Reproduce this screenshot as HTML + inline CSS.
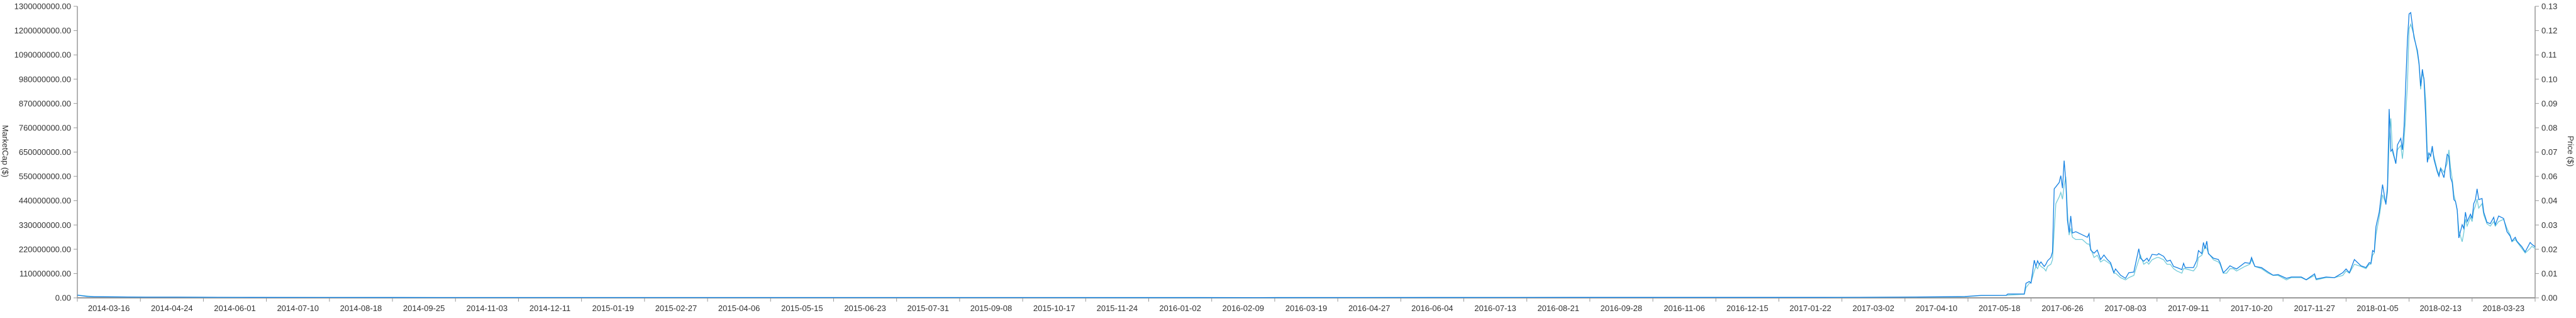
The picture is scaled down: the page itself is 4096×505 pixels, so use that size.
<!DOCTYPE html>
<html><head><meta charset="utf-8"><style>
html,body{margin:0;padding:0;background:#fff;}
svg text{font-family:"Liberation Sans",sans-serif;font-size:13px;fill:#333;}
</style></head><body>
<svg id="chart" width="4096" height="500" xmlns="http://www.w3.org/2000/svg"></svg>
<script>
const dayOffsets=[0,6,10,41,60,105,219,333,522,712,901,1053,1099,1130,1138,1148,1163,1164,1174,1175,1177,1178,1180,1181,1182,1183,1184,1186,1187,1188,1190,1191,1192,1193,1195,1196,1197,1198,1199,1200,1201,1202,1203,1205,1209,1212,1213,1214,1216,1218,1220,1222,1224,1226,1228,1229,1232,1235,1237,1240,1243,1244,1246,1248,1249,1251,1254,1255,1258,1260,1262,1264,1266,1269,1270,1271,1276,1278,1279,1281,1282,1283,1284,1285,1288,1291,1292,1294,1296,1298,1300,1302,1307,1310,1311,1313,1317,1321,1324,1327,1332,1335,1341,1344,1349,1350,1356,1361,1366,1368,1370,1373,1377,1380,1382,1383,1384,1385,1386,1388,1390,1392,1393,1394,1395,1396,1398,1399,1401,1402,1403,1405,1406,1407,1409,1411,1412,1413,1414,1415,1416,1417,1418,1419,1420,1421,1423,1424,1425,1427,1429,1430,1431,1432,1433,1434,1435,1436,1438,1439,1440,1441,1443,1444,1445,1446,1447,1448,1450,1451,1453,1455,1457,1458,1460,1463,1465,1467,1468,1470,1471,1474,1476,1479,1480,1482];
const marketCapMillions=[12,6,5,3,3,2,1.5,1.5,1.5,1,2,2,3,5,6,11,11,17,17,65,73,66,168,140,165,150,160,140,150,165,180,205,486,495,514,545,489,612,522,345,292,365,289,295,281,270,286,213,199,213,171,191,171,157,112,129,101,87,112,115,219,177,163,177,163,194,191,197,185,163,168,140,135,126,154,135,135,168,211,197,247,219,253,197,177,171,157,112,126,143,135,129,157,154,180,140,135,115,101,104,87,93,93,81,107,84,93,90,112,129,112,171,143,135,157,154,211,205,317,382,505,416,500,842,654,663,598,682,711,660,767,1151,1266,1272,1160,1103,1047,944,1019,972,803,604,646,632,677,618,562,542,576,536,640,632,536,514,438,430,393,267,326,309,382,340,373,354,420,438,486,438,443,382,336,331,359,326,365,354,295,275,253,270,253,228,205,247,239,228];
const priceValues=[0.0012,0.0008,0.0005,0.0003,0.0003,0.0002,0.00015,0.00015,0.00015,0.0001,0.0002,0.0002,0.0003,0.0004,0.0005,0.001,0.0011,0.0012,0.0016,0.0045,0.0065,0.0068,0.012,0.014,0.013,0.015,0.014,0.013,0.012,0.014,0.015,0.017,0.03,0.042,0.045,0.047,0.044,0.05,0.054,0.038,0.028,0.031,0.027,0.026,0.026,0.024,0.024,0.022,0.018,0.019,0.016,0.017,0.016,0.015,0.011,0.011,0.009,0.008,0.009,0.01,0.017,0.019,0.015,0.016,0.015,0.017,0.018,0.018,0.017,0.015,0.015,0.013,0.012,0.011,0.013,0.013,0.012,0.014,0.018,0.019,0.021,0.023,0.022,0.02,0.017,0.016,0.015,0.011,0.011,0.013,0.013,0.012,0.014,0.015,0.017,0.014,0.013,0.011,0.01,0.01,0.008,0.009,0.009,0.008,0.01,0.008,0.009,0.009,0.01,0.012,0.011,0.015,0.014,0.013,0.015,0.015,0.019,0.02,0.028,0.036,0.046,0.042,0.047,0.07,0.08,0.065,0.06,0.066,0.068,0.062,0.07,0.095,0.12,0.122,0.117,0.109,0.104,0.093,0.1,0.098,0.088,0.065,0.062,0.064,0.066,0.063,0.057,0.055,0.058,0.056,0.06,0.066,0.058,0.053,0.046,0.043,0.039,0.03,0.025,0.029,0.035,0.032,0.036,0.034,0.039,0.041,0.044,0.04,0.042,0.037,0.033,0.032,0.034,0.032,0.034,0.035,0.031,0.028,0.025,0.026,0.025,0.022,0.02,0.022,0.023,0.022];
const leftTickLabels=["0.00","110000000.00","220000000.00","330000000.00","440000000.00","550000000.00","650000000.00","760000000.00","870000000.00","980000000.00","1090000000.00","1200000000.00","1300000000.00"];
const rightTickLabels=["0.00","0.01","0.02","0.03","0.04","0.05","0.06","0.07","0.08","0.09","0.10","0.11","0.12","0.13"].filter(l=>l!=="0.05");
const xTickLabels=["2014-03-16","2014-04-24","2014-06-01","2014-07-10","2014-08-18","2014-09-25","2014-11-03","2014-12-11","2015-01-19","2015-02-27","2015-04-06","2015-05-15","2015-06-23","2015-07-31","2015-09-08","2015-10-17","2015-11-24","2016-01-02","2016-02-09","2016-03-19","2016-04-27","2016-06-04","2016-07-13","2016-08-21","2016-09-28","2016-11-06","2016-12-15","2017-01-22","2017-03-02","2017-04-10","2017-05-18","2017-06-26","2017-08-03","2017-09-11","2017-10-20","2017-11-27","2018-01-05","2018-02-13","2018-03-23"];
const capMax=1300, priceMax=0.13, dayMax=1482;

const L=123,R=4031,T=10,B=473;
const NS="http://www.w3.org/2000/svg";
const svg=document.getElementById('chart');
function xS(d){return L+(d/dayMax)*(R-L);}
function yCap(v){return B-(v/capMax)*(B-T);}
function yPrice(v){return B-(v/priceMax)*(B-T);}
function mk(tag,attrs,parent){const e=document.createElementNS(NS,tag);for(const k in attrs)e.setAttribute(k,attrs[k]);(parent||svg).appendChild(e);return e;}

// left axis
const la=mk('g',{});


mk('line',{x1:L,y1:T,x2:L,y2:B,stroke:'#999','stroke-width':1.5},la);
leftTickLabels.forEach((lab,i)=>{
  const y=B-i*(B-T)/(leftTickLabels.length-1);
  mk('line',{x1:L-6,y1:y,x2:L,y2:y,stroke:'#999','stroke-width':1},la);
  const t=mk('text',{x:L-10,y:y+4.5,'text-anchor':'end'},la);
  t.textContent=lab;
  
  
});
const lt=mk('text',{x:0,y:0,'text-anchor':'middle',transform:'translate(4,240) rotate(90)'});
lt.textContent='MarketCap ($)';



// right axis
const ra=mk('g',{});


mk('line',{x1:R,y1:T,x2:R,y2:B,stroke:'#999','stroke-width':1.5},ra);
rightTickLabels.forEach((lab,i)=>{
  const y=B-i*(B-T)/(rightTickLabels.length-1);
  mk('line',{x1:R,y1:y,x2:R+6,y2:y,stroke:'#999','stroke-width':1},ra);
  const t=mk('text',{x:R+10,y:y+4.5,'text-anchor':'start'},ra);
  t.textContent=lab;
  
  
});
const rt=mk('text',{x:0,y:0,'text-anchor':'middle',transform:'translate(4083,240) rotate(90)'});
rt.textContent='Price ($)';



// x axis
const xa=mk('g',{});


mk('line',{x1:L,y1:B,x2:R,y2:B,stroke:'#999','stroke-width':2},xa);
const step=(R-L)/xTickLabels.length;
for(let i=0;i<=xTickLabels.length;i++){
  const x=L+i*step;
  mk('line',{x1:x,y1:B,x2:x,y2:B+6,stroke:'#999','stroke-width':1},xa);
}
xTickLabels.forEach((lab,i)=>{
  const t=mk('text',{x:L+(i+0.5)*step,y:494,'text-anchor':'middle'},xa);
  t.textContent=lab;
  
  
});

// series
function path(vals,ys){
  const n=Math.min(vals.length,dayOffsets.length);
  let d='';
  for(let i=0;i<n;i++){d+=(i?'L':'M')+xS(dayOffsets[i]).toFixed(1)+','+ys(vals[i]).toFixed(1);}
  return d;
}
const pl=mk('path',{d:path(priceValues,yPrice),fill:'none',stroke:'#72cbd9','stroke-width':1.3});


const cl=mk('path',{d:path(marketCapMillions,yCap),fill:'none',stroke:'#1380e2','stroke-width':1.3});


</script>
</body></html>
